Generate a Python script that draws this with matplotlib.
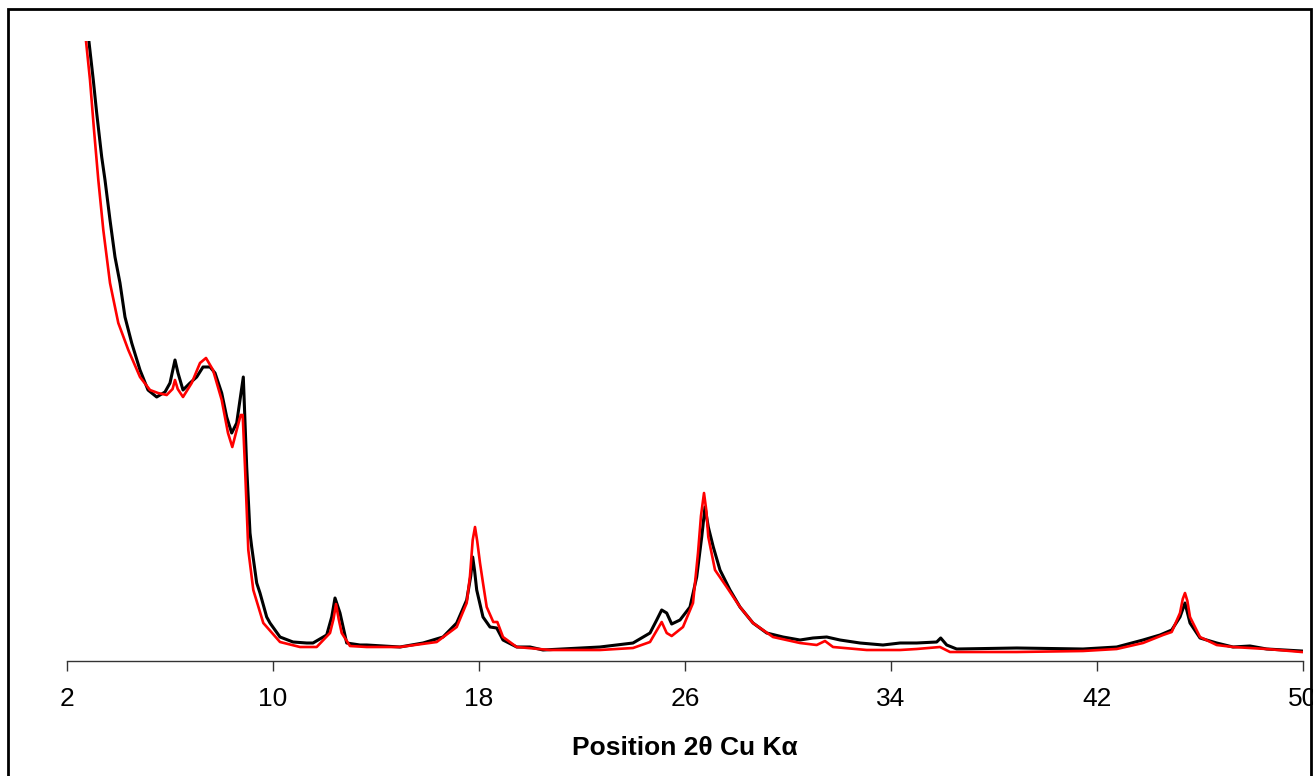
import matplotlib
matplotlib.use("Agg")
import matplotlib.pyplot as plt
from matplotlib.patches import Rectangle

plt.rcParams['font.family'] = ['Liberation Sans', 'DejaVu Sans']

# Observed pattern (2theta in degrees, intensity in arbitrary units)
obs_2theta = [2.777, 2.854, 3.021, 3.153, 3.348, 3.476, 3.670, 3.864, 4.058, 4.252,
              4.513, 4.835, 5.146, 5.483, 5.806, 6.000, 6.194, 6.311, 6.505, 6.777,
              7.037, 7.282, 7.553, 7.748, 8.008, 8.202, 8.396, 8.590, 8.718, 8.847,
              8.979, 9.107, 9.173, 9.367, 9.495, 9.755, 9.883, 10.272, 10.777, 11.309,
              11.553, 12.085, 12.280, 12.408, 12.602, 12.862, 13.379, 13.639, 14.932, 15.825,
              16.602, 17.134, 17.522, 17.680, 17.755, 17.830, 17.911, 18.155, 18.427, 18.687,
              18.932, 19.464, 19.981, 20.485, 22.699, 23.981, 24.641, 24.901, 25.095, 25.289,
              25.483, 25.806, 26.194, 26.454, 26.649, 26.777, 26.905, 27.099, 27.359, 27.748,
              28.136, 28.641, 29.173, 29.806, 30.466, 30.971, 31.503, 32.019, 32.796, 33.689,
              34.350, 34.998, 35.775, 35.930, 36.163, 36.551, 38.882, 41.456, 42.765, 43.786,
              44.447, 44.901, 45.223, 45.417, 45.612, 46.000, 46.649, 47.282, 47.942, 48.590,
              49.950]
obs_int = [640, 619, 581, 548, 504, 481, 441, 404, 378, 344,
           318, 291, 271, 264, 269, 278, 301, 288, 271, 278,
           284, 294, 294, 288, 268, 244, 228, 238, 261, 284,
           194, 128, 114, 78, 68, 44, 38, 24, 19, 18,
           18, 26, 44, 63, 48, 18, 16, 16, 14, 18,
           24, 38, 61, 85, 104, 90, 71, 44, 34, 33,
           21, 14, 14, 11, 14, 18, 28, 41, 51, 48,
           37, 41, 54, 84, 124, 154, 134, 114, 91, 71,
           54, 38, 28, 24, 21, 23, 24, 21, 18, 16,
           18, 18, 19, 23, 16, 12, 13, 12, 14, 21,
           26, 31, 44, 58, 38, 23, 18, 14, 15, 12,
           10]

# Calculated pattern
calc_2theta = [2.700, 2.738, 2.893, 3.049, 3.216, 3.410, 3.670, 3.992, 4.381, 4.835,
               5.223, 5.534, 5.872, 6.100, 6.194, 6.300, 6.505, 6.843, 7.165, 7.398,
               7.670, 8.008, 8.252, 8.419, 8.590, 8.746, 8.823, 8.913, 9.041, 9.235,
               9.623, 10.272, 11.049, 11.697, 12.214, 12.350, 12.447, 12.550, 12.668, 12.990,
               13.639, 14.932, 16.357, 17.134, 17.522, 17.650, 17.755, 17.845, 17.930, 18.039,
               18.155, 18.299, 18.555, 18.711, 18.932, 19.464, 20.757, 22.699, 23.981, 24.641,
               24.913, 25.095, 25.289, 25.483, 25.922, 26.311, 26.505, 26.620, 26.738, 26.830,
               26.905, 27.165, 27.619, 28.136, 28.641, 29.417, 30.466, 31.115, 31.437, 31.748,
               33.056, 34.350, 34.998, 35.903, 36.291, 38.882, 41.456, 42.765, 43.786, 44.563,
               44.901, 45.223, 45.330, 45.417, 45.510, 45.612, 46.000, 46.649, 47.282, 48.590,
               49.950]
calc_int = [632, 620, 581, 531, 481, 431, 378, 338, 311, 284,
            271, 268, 266, 272, 281, 272, 264, 278, 298, 303,
            291, 261, 228, 214, 231, 246, 246, 194, 111, 71,
            38, 19, 14, 14, 28, 42, 57, 42, 28, 15,
            14, 14, 19, 34, 58, 85, 121, 134, 120, 98,
            78, 54, 39, 39, 24, 14, 11, 11, 13, 19,
            31, 39, 28, 25, 34, 58, 108, 145, 168, 150,
            124, 91, 74, 54, 38, 24, 18, 16, 20, 14,
            11, 11, 12, 14, 9, 9, 10, 12, 18, 26,
            29, 48, 62, 68, 60, 44, 24, 16, 14, 12,
            9]

xticks = [2, 10, 18, 26, 34, 42, 50]
xlabel = "Position 2θ Cu Kα"

W, H = 1313, 776
fig = plt.figure(figsize=(W / 100, H / 100), dpi=100)
ax = fig.add_axes([67 / W, (H - 661) / H, 1236 / W, 620 / H])

ax.plot(obs_2theta, obs_int, color='black', lw=2.2, solid_joinstyle='round')
ax.plot(calc_2theta, calc_int, color='#ff0000', lw=1.9, solid_joinstyle='round')

ax.set_xlim(2, 50)
ax.set_ylim(0, 620)
ax.set_xticks(xticks)
ax.set_xticklabels([str(t) for t in xticks])
ax.set_yticks([])
for s in ['top', 'right', 'left']:
    ax.spines[s].set_visible(False)
ax.spines['bottom'].set_color('#333333')
ax.spines['bottom'].set_linewidth(1.0)
ax.tick_params(axis='x', direction='out', length=7, width=1.0, color='#333333',
               labelsize=19, pad=12)
ax.set_xlabel(xlabel, fontsize=19, fontweight='bold', labelpad=18)

frame = Rectangle((8 / W, -0.1), (1310.5 - 8) / W, 1.1 - 9 / H,
                  transform=fig.transFigure, fill=False, edgecolor='black',
                  linewidth=2.0, clip_on=False)
fig.patches.append(frame)

fig.savefig('out.png', dpi=100)
